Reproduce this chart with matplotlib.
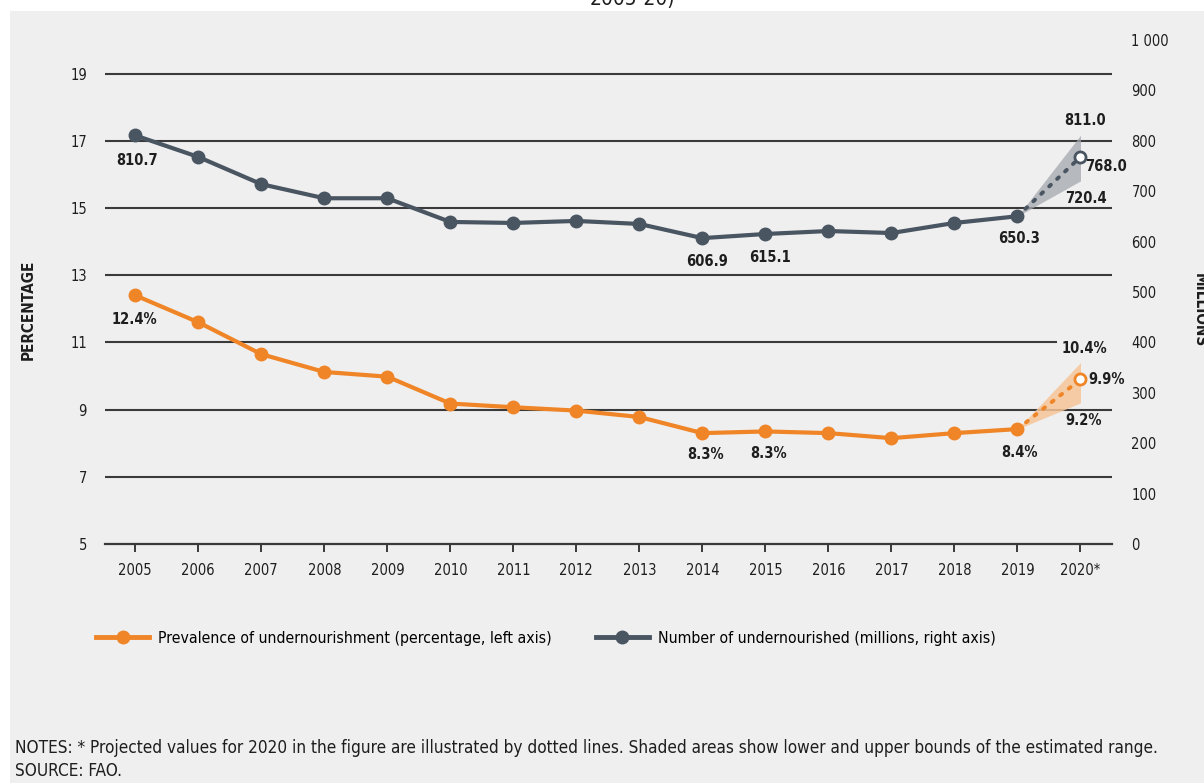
import matplotlib
matplotlib.use("Agg")
import matplotlib.pyplot as plt
from matplotlib.lines import Line2D
from matplotlib.patches import Rectangle

# ---------------- data ----------------
years = list(range(2005, 2020))
year_labels = [str(y) for y in range(2005, 2020)] + ["2020*"]
proj_year = 2020

pou = [12.4, 11.6, 10.65, 10.12, 9.98, 9.18, 9.07, 8.97, 8.78, 8.3, 8.35, 8.3, 8.15, 8.3, 8.42]
pou_proj = 9.9
pou_low, pou_high = 9.2, 10.4

num = [810.7, 768, 714, 686, 686, 639, 637, 641, 635, 606.9, 615.1, 621, 617, 637, 650.3]
num_proj = 768.0
num_low, num_high = 720.4, 811.0

pou_labels = {2005: "12.4%", 2014: "8.3%", 2015: "8.3%", 2019: "8.4%"}
num_labels = {2005: "810.7", 2014: "606.9", 2015: "615.1", 2019: "650.3"}

left_ticks = [5, 7, 9, 11, 13, 15, 17, 19]
right_ticks = [0, 100, 200, 300, 400, 500, 600, 700, 800, 900, 1000]
right_tick_labels = ["0", "100", "200", "300", "400", "500", "600", "700", "800", "900", "1 000"]

ORANGE = "#ef8527"
SLATE = "#4a5562"
BG = "#efefef"
GRID = "#3a3a3a"
TXT = "#1e1e1e"

plt.rcParams["font.family"] = ["DejaVu Sans"]
plt.rcParams["font.stretch"] = "condensed"

W, H = 1204, 783
fig = plt.figure(figsize=(W / 100, H / 100), dpi=100, facecolor="white")
fig.patches.append(Rectangle((10 / W, 0), 1 - 10 / W, 1 - 11 / H, transform=fig.transFigure,
                             facecolor=BG, edgecolor="none", zorder=-10))
fig.text(632 / W, 1 - 9 / H, "2005-20)", ha="center", va="bottom", fontsize=15, color=TXT)

ax = fig.add_axes([105 / W, 1 - 544 / H, (1112 - 105) / W, (544 - 40) / H])
ax.set_facecolor("none")
ax2 = ax.twinx()
ax2.set_facecolor("none")

ax.set_xlim(2004.52, 2020.5)
ax.set_ylim(5, 20)
ax2.set_ylim(0, 1000)

for s in ["top", "left", "right"]:
    ax.spines[s].set_visible(False)
    ax2.spines[s].set_visible(False)
ax2.spines["bottom"].set_visible(False)
ax.spines["bottom"].set_color(GRID)
ax.spines["bottom"].set_linewidth(1.6)

TICK_FS = 10.5
ax.set_yticks(left_ticks)
ax.set_yticklabels([str(t) for t in left_ticks])
ax.tick_params(axis="y", length=0, pad=13, labelsize=TICK_FS, labelcolor=TXT)
for t in left_ticks[1:]:
    ax.axhline(t, color=GRID, lw=1.5, zorder=0)

ax2.set_yticks(right_ticks)
ax2.set_yticklabels(right_tick_labels)
ax2.tick_params(axis="y", length=0, pad=14, labelsize=TICK_FS, labelcolor=TXT)

ax.set_xticks(years + [proj_year])
ax.set_xticklabels(year_labels)
ax.tick_params(axis="x", length=6, width=1.4, color=GRID, pad=8, labelsize=TICK_FS, labelcolor=TXT)

lbl_kw = dict(fontsize=10.5, color=TXT, fontweight="bold", zorder=5,
              ha="center", va="center", textcoords="offset pixels")

# ---- prevalence (left axis) ----
ax.fill_between([years[-1], proj_year], [pou[-1], pou_low], [pou[-1], pou_high],
                color="#f6c597", alpha=0.85, lw=0, zorder=1)
ax.plot(years, pou, color=ORANGE, lw=3, marker="o", ms=9, zorder=3)
ax.plot([years[-1], proj_year], [pou[-1], pou_proj], color=ORANGE, lw=2.8,
        ls=(0, (0.6, 2.2)), dash_capstyle="round", zorder=3)
ax.plot([proj_year], [pou_proj], marker="o", ms=8, mfc="white", mec=ORANGE, mew=2, zorder=4)

pou_off = {2005: (-1, -24), 2014: (3, -21), 2015: (3, -22), 2019: (2, -23)}
for yr, txt in pou_labels.items():
    v = pou[years.index(yr)]
    ax.annotate(txt, (yr, v), xytext=pou_off[yr], **lbl_kw)
ax.annotate("10.4%", (proj_year, pou_high), xytext=(4, 14),
            bbox=dict(boxstyle="square,pad=0.3", fc=BG, ec="none"), **lbl_kw)
ax.annotate("9.9%", (proj_year, pou_proj), xytext=(26, 0), **lbl_kw)
ax.annotate("9.2%", (proj_year, pou_low), xytext=(3, -18), **lbl_kw)

# ---- number (right axis) ----
ax2.fill_between([years[-1], proj_year], [num[-1], num_low], [num[-1], num_high],
                 color="#a4a7ae", alpha=0.75, lw=0, zorder=1)
ax2.plot(years, num, color=SLATE, lw=3, marker="o", ms=9, zorder=3)
ax2.plot([years[-1], proj_year], [num[-1], num_proj], color=SLATE, lw=2.8,
         ls=(0, (0.6, 2.2)), dash_capstyle="round", zorder=3)
ax2.plot([proj_year], [num_proj], marker="o", ms=8, mfc="white", mec=SLATE, mew=2, zorder=4)

num_off = {2005: (2, -25), 2014: (5, -23), 2015: (5, -24), 2019: (2, -22)}
for yr, txt in num_labels.items():
    v = num[years.index(yr)]
    ax2.annotate(txt, (yr, v), xytext=num_off[yr], **lbl_kw)
ax2.annotate("811.0", (proj_year, num_high), xytext=(5, 15), **lbl_kw)
ax2.annotate("768.0", (proj_year, num_proj), xytext=(26, -10), **lbl_kw)
ax2.annotate("720.4", (proj_year, num_low), xytext=(5, -18), **lbl_kw)

# axis titles
fig.text(28 / W, 1 - 310 / H, "PERCENTAGE", rotation=90, ha="center", va="center",
         fontsize=11, fontweight="bold", color=TXT)
fig.text(1199 / W, 1 - 310 / H, "MILLIONS", rotation=270, ha="center", va="center",
         fontsize=11, fontweight="bold", color=TXT)

# legend
handles = [Line2D([], [], color=ORANGE, lw=3.5, marker="o", ms=9),
           Line2D([], [], color=SLATE, lw=3.5, marker="o", ms=9)]
labels = ["Prevalence of undernourishment (percentage, left axis)",
          "Number of undernourished (millions, right axis)"]
fig.legend(handles, labels, loc="center left", bbox_to_anchor=(96 / W, 1 - 638 / H), ncol=2,
           frameon=False, fontsize=11.3, handlelength=3.4, handletextpad=0.55, columnspacing=2.8,
           borderpad=0, borderaxespad=0)

fig.text(15 / W, 1 - 748 / H,
         "NOTES: * Projected values for 2020 in the figure are illustrated by dotted lines. "
         "Shaded areas show lower and upper bounds of the estimated range.",
         ha="left", va="center", fontsize=12.3, color=TXT)
fig.text(15 / W, 1 - 771 / H, "SOURCE: FAO.", ha="left", va="center", fontsize=12.3, color=TXT)

fig.savefig("out.png", dpi=100, facecolor="white")
